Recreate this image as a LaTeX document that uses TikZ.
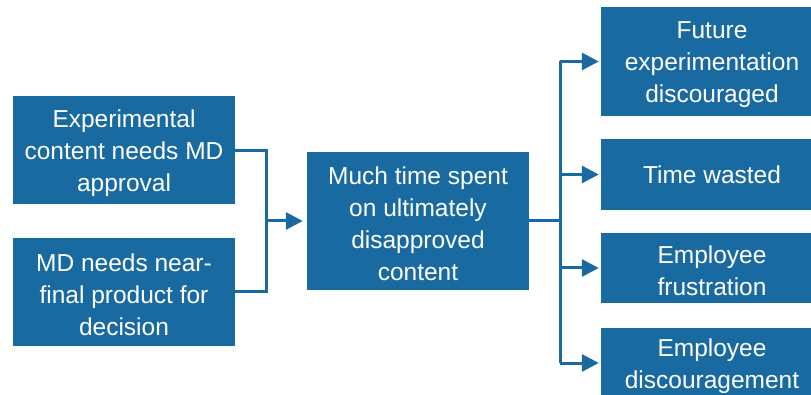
\documentclass[tikz,border=0pt]{standalone}
\usepackage{fontspec}
\setmainfont{Liberation Sans}
\usetikzlibrary{arrows.meta}
\definecolor{boxblue}{RGB}{24,106,160}
\tikzset{
  boxbase/.style={fill=boxblue, draw=none, minimum width=222pt, inner sep=0pt},
  box/.style={boxbase, label={[boxtext, yshift=-3pt]center:#1}},
  onelinebox/.style={boxbase, label={[boxtext]center:#1}},
  boxtext/.style={text=white, align=center, inner sep=0pt,
    font=\fontsize{24.5pt}{32pt}\selectfont},
  link/.style={draw=boxblue, line width=3pt},
  arrowlink/.style={link, -{Triangle[length=17pt,width=17pt]}}
}
\begin{document}
\begin{tikzpicture}[x=1pt,y=-1pt]
\useasboundingbox (0,0) rectangle (811,395);
\begin{scope}
\clip (0,0) rectangle (811,395);
% causes
\node[box={Experimental\\content needs MD\\approval}, minimum height=108pt] (cause1) at (124,150.5) {};
\node[box={MD needs near-\\final product for\\decision}, minimum height=108pt] (cause2) at (124,292) {};
% central problem
\node[box={Much time spent\\on ultimately\\disapproved\\content}, minimum height=138pt] (problem) at (418,221) {};
% effects
\node[box={Future\\experimentation\\discouraged}, minimum height=109pt] (eff1) at (712,61.5) {};
\node[onelinebox={Time wasted}, minimum height=71pt] (eff2) at (712,174.5) {};
\node[box={Employee\\frustration}, minimum height=70pt] (eff3) at (712,268) {};
\node[box={Employee\\discouragement}, minimum height=70pt] (eff4) at (712,363) {};
% junctions
\coordinate (joinL) at (266,221);
\coordinate (joinR) at (560,221);
% connectors
\draw[link] (cause1.east) -| (joinL);
\draw[link] (cause2.east) -| (joinL);
\draw[arrowlink, shorten >=4pt] (joinL) -- (problem.west);
\draw[link] (problem.east) -- (joinR);
\draw[link] (eff1.west -| joinR) -- (eff4.west -| joinR);
\foreach \e in {eff1,eff2,eff3,eff4}
  \draw[arrowlink, shorten >=2pt] (\e.west -| joinR) -- (\e.west);
\end{scope}
\end{tikzpicture}
\end{document}
